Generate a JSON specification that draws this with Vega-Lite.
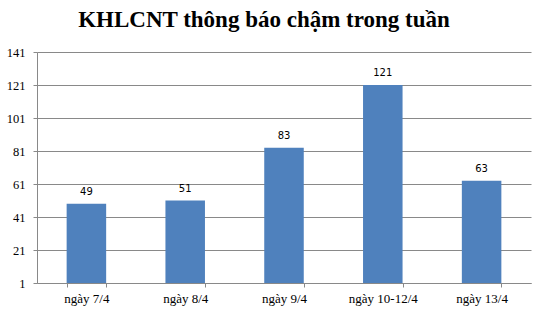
{
  "$schema": "https://vega.github.io/schema/vega-lite/v6.json",
  "autosize": "none",
  "width": 494,
  "height": 231,
  "padding": {"left": 37, "top": 52, "right": 8, "bottom": 27},
  "background": "white",
  "title": {
    "text": "KHLCNT thông báo chậm trong tuần",
    "font": "Liberation Serif",
    "fontSize": 23,
    "fontWeight": "bold",
    "color": "#000000",
    "anchor": "middle",
    "dx": -20,
    "offset": 14
  },
  "data": {
    "values": [
      {"ngay": "ngày 7/4", "so": 49},
      {"ngay": "ngày 8/4", "so": 51},
      {"ngay": "ngày 9/4", "so": 83},
      {"ngay": "ngày 10-12/4", "so": 121},
      {"ngay": "ngày 13/4", "so": 63}
    ]
  },
  "config": {
    "view": {"stroke": null}
  },
  "encoding": {
    "x": {
      "field": "ngay",
      "type": "nominal",
      "sort": null,
      "scale": {"paddingInner": 0.6, "paddingOuter": 0.3},
      "axis": {
        "title": null,
        "labelAngle": 0,
        "labelFont": "Liberation Serif",
        "labelFontSize": 13,
        "labelColor": "#000000",
        "domainColor": "#898989",
        "tickColor": "#898989",
        "tickBand": "extent",
        "tickSize": 4,
        "labelPadding": 5
      }
    }
  },
  "layer": [
    {
      "mark": {"type": "bar", "color": "#4F81BD"},
      "encoding": {
        "y": {
          "field": "so",
          "type": "quantitative",
          "scale": {"domain": [1, 141], "zero": false, "nice": false},
          "axis": {
            "title": null,
            "values": [1, 21, 41, 61, 81, 101, 121, 141],
            "tickCount": 20,
            "labelOverlap": false,
            "labelFlush": false,
            "labelFont": "Liberation Serif",
            "labelFontSize": 12.5,
            "labelColor": "#000000",
            "domainColor": "#898989",
            "tickColor": "#898989",
            "gridColor": "#898989",
            "grid": true,
            "tickSize": 4,
            "labelPadding": 8
          }
        },
        "y2": {"datum": 1}
      }
    },
    {
      "mark": {"type": "text", "font": "DejaVu Sans", "fontSize": 10, "baseline": "bottom", "dy": -7, "color": "#000000"},
      "encoding": {
        "y": {"field": "so", "type": "quantitative"},
        "text": {"field": "so", "type": "quantitative"}
      }
    }
  ]
}
